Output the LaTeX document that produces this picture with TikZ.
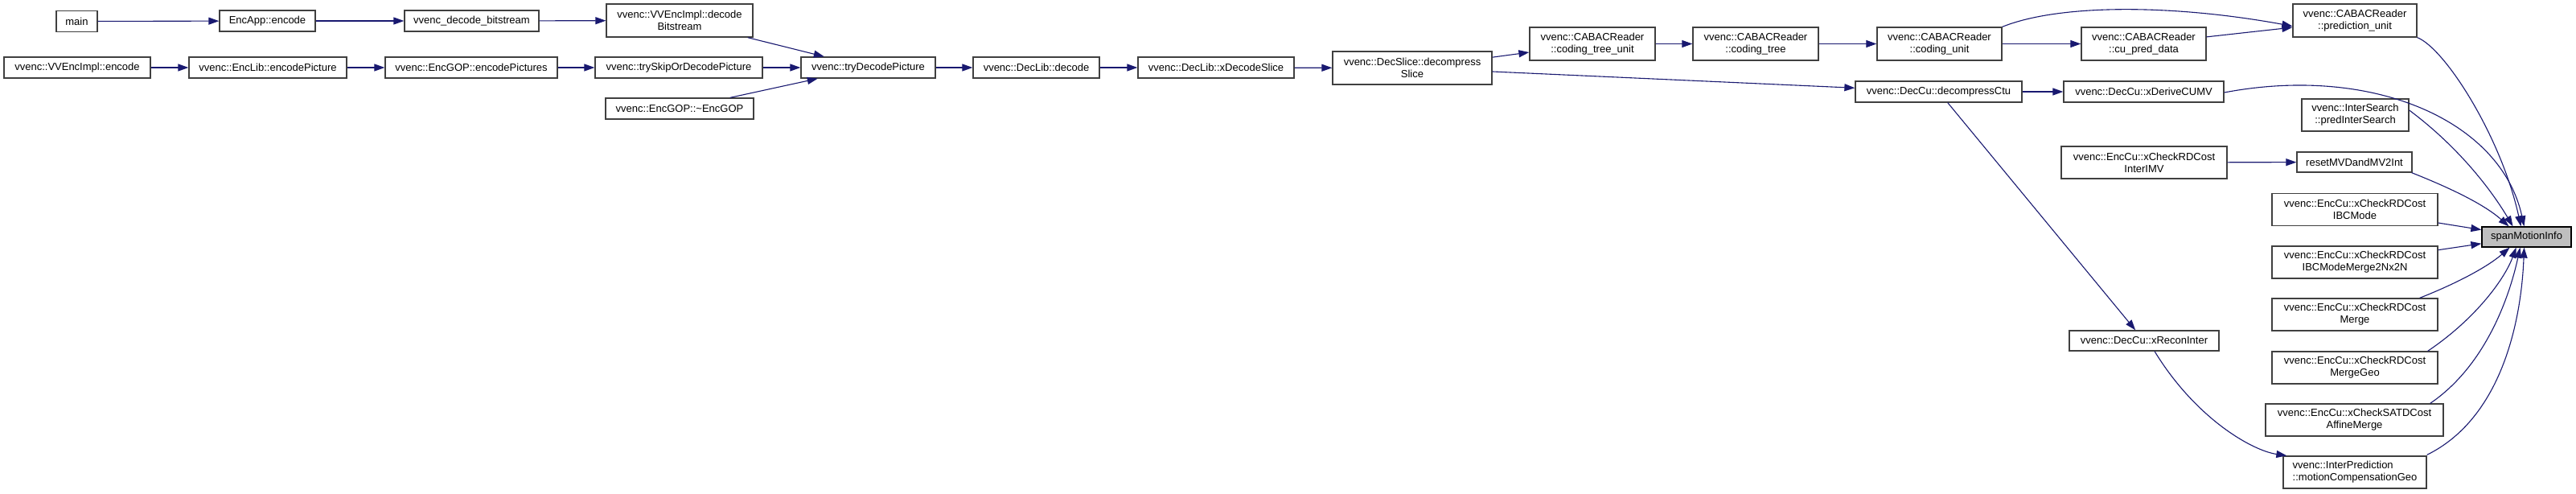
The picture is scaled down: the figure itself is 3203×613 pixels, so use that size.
\documentclass[tikz,border=0pt]{standalone}
\usepackage{fontspec}
\setmainfont{Liberation Sans}
\usetikzlibrary{arrows.meta}
\definecolor{edgeblue}{HTML}{191970}
\definecolor{boxline}{HTML}{404040}
\definecolor{rootfill}{HTML}{BFBFBF}
\begin{document}
\begin{tikzpicture}[x=1pt,y=-1pt,
  fn/.style={draw=boxline, fill=white, line width=1.3pt, inner sep=0pt, align=center, font=\fontsize{13}{15}\selectfont},
  one/.style={fn, minimum height=26pt},
  two/.style={fn, minimum height=41pt},
  root/.style={fn, minimum height=25pt, draw=black, fill=rootfill},
  call/.style={draw=edgeblue, line width=1.1pt, -{Triangle[length=13pt,width=9pt]}}]
\useasboundingbox (0,0) rectangle (3203,613);
% nodes
\node[one, minimum width=51pt]  (main)    at (95.5,26.5) {main};
\node[one, minimum width=119pt] (encapp)  at (332.5,26) {EncApp::encode};
\node[one, minimum width=167pt] (decbs)   at (586.5,26) {vvenc\_decode\_bitstream};
\node[two, minimum width=182pt] (implbs)  at (845,25.5) {vvenc::VVEncImpl::decode\\Bitstream};
\node[one, minimum width=182pt] (implenc) at (96,84) {vvenc::VVEncImpl::encode};
\node[one, minimum width=196pt] (encpic)  at (333,84) {vvenc::EncLib::encodePicture};
\node[one, minimum width=214pt] (encpics) at (586,84) {vvenc::EncGOP::encodePictures};
\node[one, minimum width=208pt] (tryskip) at (844,84) {vvenc::trySkipOrDecodePicture};
\node[one, minimum width=184pt] (gopdtor) at (845,135) {vvenc::EncGOP::\textasciitilde EncGOP};
\node[one, minimum width=167pt] (trydec)  at (1079.5,84) {vvenc::tryDecodePicture};
\node[one, minimum width=157pt] (libdec)  at (1288.5,84) {vvenc::DecLib::decode};
\node[one, minimum width=194pt] (xdslice) at (1512,84) {vvenc::DecLib::xDecodeSlice};
\node[two, minimum width=198pt] (dslice)  at (1756,84.5) {vvenc::DecSlice::decompress\\Slice};
\node[two, minimum width=156pt] (ctu)     at (1980,54.5) {vvenc::CABACReader\\::coding\_tree\_unit};
\node[two, minimum width=156pt] (ctree)   at (2183,54.5) {vvenc::CABACReader\\::coding\_tree};
\node[two, minimum width=155pt] (cunit)   at (2411.5,54.5) {vvenc::CABACReader\\::coding\_unit};
\node[two, minimum width=155pt] (cupred)  at (2665.5,54.5) {vvenc::CABACReader\\::cu\_pred\_data};
\node[two, minimum width=154pt] (predu)   at (2928,25.5) {vvenc::CABACReader\\::prediction\_unit};
\node[one, minimum width=207pt] (dctu)    at (2410.5,114) {vvenc::DecCu::decompressCtu};
\node[one, minimum width=199pt] (dmv)     at (2665.5,114) {vvenc::DecCu::xDeriveCUMV};
\node[two, minimum width=133pt, minimum height=40pt] (pis) at (2928.5,143) {vvenc::InterSearch\\::predInterSearch};
\node[two, minimum width=206pt, minimum height=40pt] (imv) at (2666,202) {vvenc::EncCu::xCheckRDCost\\InterIMV};
\node[one, minimum width=143pt, minimum height=25pt] (reset) at (2927.5,201.5) {resetMVDandMV2Int};
\node[two, minimum width=206pt, minimum height=40pt] (ibc)   at (2928,260.5) {vvenc::EncCu::xCheckRDCost\\IBCMode};
\node[two, minimum width=206pt, minimum height=40pt] (ibcm)  at (2928,326) {vvenc::EncCu::xCheckRDCost\\IBCModeMerge2Nx2N};
\node[two, minimum width=206pt, minimum height=40pt] (mrg)   at (2928,391) {vvenc::EncCu::xCheckRDCost\\Merge};
\node[two, minimum width=206pt, minimum height=40pt] (mgeo)  at (2928,457) {vvenc::EncCu::xCheckRDCost\\MergeGeo};
\node[two, minimum width=221pt, minimum height=40pt] (aff)   at (2927.5,522) {vvenc::EncCu::xCheckSATDCost\\AffineMerge};
\node[two, minimum width=178pt, minimum height=40pt, align=left] (mcg) at (2928,587) {vvenc::InterPrediction\\::motionCompensationGeo};
\node[one, minimum width=186pt, minimum height=25pt] (recon) at (2666,423.5) {vvenc::DecCu::xReconInter};
\node[root, minimum width=111pt] (span) at (3141.5,294.5) {spanMotionInfo};
% edges
\draw[call] (main) -- (encapp);
\draw[call] (encapp) -- (decbs);
\draw[call] (decbs) -- (implbs);
\draw[call] (implbs) -- (trydec);
\draw[call] (implenc) -- (encpic);
\draw[call] (encpic) -- (encpics);
\draw[call] (encpics) -- (tryskip);
\draw[call] (tryskip) -- (trydec);
\draw[call] (gopdtor) -- (trydec);
\draw[call] (trydec) -- (libdec);
\draw[call] (libdec) -- (xdslice);
\draw[call] (xdslice) -- (dslice);
\draw[call] (dslice) -- (ctu);
\draw[call] (dslice) -- (dctu);
\draw[call] (ctu) -- (ctree);
\draw[call] (ctree) -- (cunit);
\draw[call] (cunit) -- (cupred);
\draw[call] (cunit.north east) .. controls (2560,5) and (2700,5) .. ([yshift=-7pt]predu.west);
\draw[call] (cupred) -- (predu);
\draw[call] (predu.south east) .. controls (3040,60) and (3110,170) .. ([xshift=-7pt]span.north);
\draw[call] (dctu) -- (dmv);
\draw[call] ([yshift=-1pt]dmv.east) .. controls (2950,80) and (3110,150) .. ([xshift=-3pt]span.north);
\draw[call] (dctu) -- (recon);
\draw[call] ([yshift=6pt]pis.east) .. controls (3060,185) and (3100,240) .. ([xshift=-17pt]span.north);
\draw[call] (imv) -- (reset);
\draw[call] ([xshift=-1pt]reset.south east) .. controls (3050,235) and (3090,255) .. ([xshift=-22pt]span.north);
\draw[call] (ibc) -- (span);
\draw[call] (ibcm) -- (span);
\draw[call] ([xshift=-23pt]mrg.north east) .. controls (3060,350) and (3095,330) .. ([xshift=-21pt]span.south);
\draw[call] ([xshift=-13pt]mgeo.north east) .. controls (3080,395) and (3115,345) .. ([xshift=-13pt]span.south);
\draw[call] ([xshift=-17pt]aff.north east) .. controls (3090,455) and (3120,370) .. ([xshift=-8pt]span.south);
\draw[call] ([yshift=1pt]mcg.north east) .. controls (3110,520) and (3135,400) .. ([xshift=-3pt]span.south);
\draw[call] ([xshift=13pt]recon.south) .. controls (2730,520) and (2800,560) .. ([xshift=5pt]mcg.north west);
\end{tikzpicture}
\end{document}
